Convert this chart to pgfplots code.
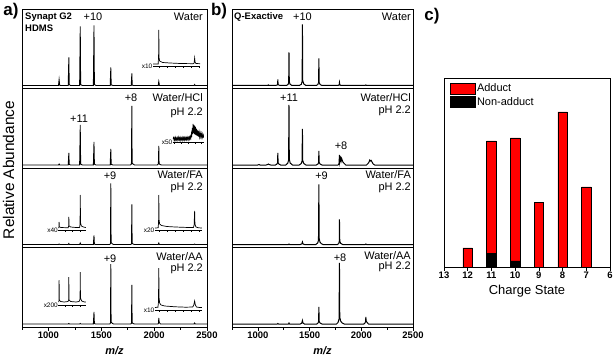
\documentclass[border=0pt]{standalone}
\usepackage{pgfplots}
\pgfplotsset{compat=1.18}
\usepackage{fontspec}
\setmainfont{Liberation Sans}
\setsansfont{Liberation Sans}
\newcommand{\fs}[1]{\fontsize{#1}{#1}\selectfont}

\pgfplotsset{
  spec/.style={scale only axis, height=79.5bp, xmin=750, xmax=2500, ymin=-3, ymax=76.5,
    xtick=\empty, ytick=\empty, anchor=north west, axis line style={line width=0.8bp}},
  speca/.style={spec, width=185bp},
  specb/.style={spec, width=181bp},
  boldticks/.style={/pgf/number format/1000 sep={}, /pgf/number format/assume math mode=true,
    xticklabel={\textbf{\pgfmathprintnumber{\tick}}}},
  bottomax/.style={xtick={1000,1500,2000,2500}, minor xtick={750,1250,1750,2250},
    xtick pos=left, tick align=outside, major tick length=3.5bp, minor tick length=2.5bp,
    tick style={line width=0.7bp, black}, boldticks,
    xticklabel style={font=\fs{9.5}, inner sep=1.5bp},
    xlabel={\bfseries\itshape m/z}, xlabel style={font=\fs{11}, yshift=-3bp}},
  inset/.style={scale only axis, anchor=south west, hide y axis, axis x line*=bottom,
    ymin=0, ymax=45, height=45bp, tick align=outside, major tick length=1.8bp,
    xticklabels={}, axis line style={line width=0.6bp}, tick style={line width=0.6bp, black}},
}
\tikzset{
  sline/.style={black, line width=0.85bp, mark=none},
  bline/.style={black, line width=1bp, mark=none},
  iline/.style={black, line width=0.7bp, mark=none},
  lab/.style={font=\fs{11}, inner sep=0pt},
}

\begin{document}
\begin{tikzpicture}
\useasboundingbox (0,0) rectangle (614bp,-360bp);

% ---------------- panel a: Synapt G2 HDMS ----------------
\begin{axis}[speca, at={(22bp,-9bp)}]
\addplot[sline] coordinates {(750,0)(1095,0)(1101,6)(1107,0)(1187,0)(1193,28)(1197,0.8)(1210,0)(1295,0)(1301,59)(1305,1)(1320,0)(1425,0)(1431,60)(1435,1)(1450,0)(1584,0)(1590,18)(1594,0.6)(1610,0)(1783,0)(1789,12)(1793,0.4)(1805,0)(2038,0)(2044,4)(2050,0)(2377,0)(2383,1)(2389,0)(2500,0)};
\end{axis}
\begin{axis}[speca, at={(22bp,-88.5bp)}]
\addplot[sline] coordinates {(750,0)(1095,0)(1101,1)(1107,0)(1187,0)(1193,12)(1197,0.5)(1210,0)(1295,0)(1301,40)(1305,1)(1320,0)(1425,0)(1431,23)(1435,0.8)(1450,0)(1584,0)(1590,16)(1594,0.6)(1610,0)(1775,0)(1785,1)(1789,59)(1792,2)(1800,1)(1815,0)(2030,0)(2040,1)(2044,19)(2047,1.5)(2055,0.5)(2070,0)(2500,0)};
\end{axis}
\begin{axis}[speca, at={(22bp,-168bp)}]
\addplot[sline] coordinates {(750,0)(1095,0)(1101,0.5)(1107,0)(1187,0)(1193,1)(1199,0)(1295,0)(1301,1.5)(1307,0)(1425,0)(1431,9)(1435,0.4)(1445,0)(1580,0)(1587,1)(1590,61)(1593,2)(1600,1)(1615,0)(1780,0)(1786,0.8)(1789,40)(1792,1.5)(1800,0.5)(1815,0)(2038,0)(2044,1.5)(2050,0)(2377,0)(2383,0.5)(2389,0)(2500,0)};
\end{axis}
\begin{axis}[speca, bottomax, at={(22bp,-247.5bp)}]
\addplot[sline] coordinates {(750,0)(1187,0)(1193,0.5)(1199,0)(1295,0)(1301,0.5)(1307,0)(1425,0)(1431,12)(1435,0.5)(1445,0)(1580,0)(1587,1)(1590,60)(1593,2)(1600,1)(1615,0)(1780,0)(1786,0.8)(1789,39)(1792,1.5)(1800,0.5)(1815,0)(2036,0)(2041,0.8)(2044,6)(2048,1.5)(2060,0)(2377,0)(2383,1)(2389,0)(2500,0)};
\end{axis}

% insets of panel a (same m/z scale as the main axes)
\begin{axis}[inset, at={(153.09bp,-66bp)}, width=47.04bp, xmin=1990, xmax=2435, xtick={2050,2125,2200,2275,2350,2425}]
\addplot[iline] coordinates {(1990,2)(2038,2)(2042,10)(2044,36)(2047,8)(2052,5)(2080,3.5)(2150,3)(2250,2.5)(2370,2.3)(2378,3)(2383,8)(2387,4)(2395,2.5)(2435,2.3)};
\end{axis}
\begin{axis}[inset, at={(172.96bp,-142bp)}, width=30.87bp, xmin=2178, xmax=2470, xtick={2190,2255,2320,2385,2450}]
\addplot[iline] coordinates {(2178,3)(2183,4.5)(2188,2)(2192,4)(2197,1.8)(2202,4.6)(2207,2.2)(2212,4)(2217,1.6)(2222,4.3)(2227,2.4)(2232,4.8)(2237,2)(2242,4.1)(2247,1.7)(2252,4.5)(2257,2.3)(2262,4.2)(2267,1.9)(2272,4.7)(2277,2.2)(2282,4.4)(2287,2)(2292,4.6)(2297,2.5)(2302,4.3)(2307,2.1)(2312,4.9)(2317,2.6)(2322,4.5)(2327,2.3)(2332,5)(2337,2.8)(2342,5.5)(2347,3.5)(2352,8)(2356,5)(2360,14)(2364,8)(2368,18)(2372,9)(2376,17)(2380,8)(2384,16)(2388,7.5)(2392,15)(2396,7)(2400,13)(2404,6.5)(2408,12)(2412,6)(2416,11)(2420,5.5)(2425,10)(2430,5)(2435,9)(2440,5)(2445,8.5)(2450,4.8)(2455,8)(2460,4.5)(2465,7)(2470,4.5)};
\end{axis}
\begin{axis}[inset, at={(58.47bp,-230bp)}, width=27.49bp, xmin=1095, xmax=1355, xtick={1155,1230,1305}]
\addplot[iline] coordinates {(1095,2)(1099,3)(1101,8)(1104,3)(1120,2.5)(1187,2.2)(1191,4)(1193,13)(1196,4)(1210,3)(1260,2.5)(1295,2.6)(1299,6)(1301,35)(1304,7)(1312,4)(1330,3)(1355,2.5)};
\end{axis}
\begin{axis}[inset, at={(154.99bp,-230bp)}, width=46.94bp, xmin=2008, xmax=2452, xtick={2050,2125,2200,2275,2350,2425}]
\addplot[iline] coordinates {(2008,2)(2038,2.2)(2042,8)(2044,35)(2047,10)(2052,6)(2070,4.5)(2120,3.5)(2200,3)(2300,2.6)(2372,2.6)(2378,5)(2383,19)(2386,6)(2395,3)(2420,2.2)(2452,2)};
\end{axis}
\begin{axis}[inset, at={(58.47bp,-305bp)}, width=27.49bp, xmin=1095, xmax=1355, xtick={1155,1230,1305}]
\addplot[iline] coordinates {(1095,3)(1099,4)(1101,25)(1103,5)(1115,3.5)(1150,3)(1185,3.5)(1191,5)(1193,28)(1195,5)(1210,3.5)(1260,3)(1290,3.5)(1299,6)(1301,33)(1303,7)(1315,4)(1340,3)(1355,3)};
\end{axis}
\begin{axis}[inset, at={(154.99bp,-310bp)}, width=46.94bp, xmin=2008, xmax=2452, xtick={2050,2125,2200,2275,2350,2425}]
\addplot[iline] coordinates {(2008,2.5)(2036,2.8)(2041,8)(2044,42)(2047,12)(2052,7)(2065,5)(2100,4)(2200,3.2)(2300,2.8)(2365,3)(2375,5)(2383,9)(2390,5)(2400,3)(2430,2.5)(2452,2.5)};
\end{axis}

% ---------------- panel b: Q-Exactive ----------------
\begin{axis}[specb, at={(232bp,-9bp)}]
\addplot[bline] coordinates {(750,0)(1095,0)(1101,0.6)(1107,0)(1170,0)(1185,0.4)(1191,1.2)(1193,6)(1196,1)(1205,0.3)(1220,0)(1275,0)(1292,1)(1298,3)(1301,33)(1304,3.5)(1312,1.2)(1330,0)(1400,0)(1420,1.2)(1428,4)(1431,61)(1434,5)(1444,1.5)(1465,0)(1565,0)(1580,1)(1587,3)(1590,27)(1593,3)(1602,1)(1620,0)(1775,0)(1786,0.5)(1789,3)(1793,0.6)(1805,0)(2038,0)(2044,0.6)(2050,0)(2500,0)};
\end{axis}
\begin{axis}[specb, at={(232bp,-88.5bp)}]
\addplot[bline] coordinates {(750,0)(1000,0)(1010,0.5)(1020,0)(1080,0)(1095,0.5)(1101,1)(1110,0.4)(1125,0)(1170,0)(1185,1)(1190,2)(1193,12)(1196,2)(1205,0.8)(1220,0)(1270,0)(1290,2)(1297,5)(1301,60)(1304,6)(1312,2)(1335,0)(1400,0)(1420,1.5)(1427,4)(1431,36)(1434,4.5)(1444,1.5)(1465,0)(1565,0)(1582,1)(1587,2.5)(1590,14)(1593,2.5)(1602,1)(1620,0)(1775,0)(1784,1)(1789,10)(1792,3)(1797,6)(1800,7)(1805,4)(1810,6.5)(1815,5)(1822,3)(1835,1.5)(1850,0)(2050,0)(2065,1.5)(2075,3)(2082,5)(2090,4)(2096,4.5)(2104,3)(2115,1)(2130,0)(2500,0)};
\end{axis}
\begin{axis}[specb, at={(232bp,-168bp)}]
\addplot[bline] coordinates {(750,0)(1295,0)(1301,0.5)(1307,0)(1410,0)(1425,0.6)(1431,2.5)(1436,0.6)(1450,0)(1560,0)(1578,1.5)(1586,4)(1590,60)(1593,6)(1600,2.5)(1612,1)(1630,0)(1770,0)(1782,1)(1787,3)(1789,25)(1792,3.5)(1800,1.2)(1820,0)(2038,0)(2044,0.5)(2050,0)(2500,0)};
\end{axis}
\begin{axis}[specb, bottomax, at={(232bp,-247.5bp)}]
\addplot[bline] coordinates {(750,0)(1187,0)(1193,0.5)(1199,0)(1295,0)(1301,1)(1307,0)(1410,0)(1424,0.8)(1431,3.5)(1436,1)(1450,0)(1570,0)(1582,1)(1587,2.5)(1590,17)(1593,2.5)(1602,1)(1620,0)(1760,0)(1775,1.5)(1785,5)(1789,61)(1792,7)(1800,3)(1815,1)(1835,0)(2025,0)(2036,1)(2041,2.5)(2044,7)(2048,3)(2056,1.5)(2070,0)(2500,0)};
\end{axis}

% ---------------- panel c: charge state bars ----------------
\begin{axis}[at={(444bp,-78bp)}, anchor=north west, scale only axis, width=166bp, height=189bp,
  xmin=6, xmax=13, x dir=reverse, ymin=0, ymax=121.9, ytick=\empty,
  xtick={6,...,13}, xtick pos=left, tick align=outside, major tick length=3.5bp,
  tick style={line width=0.7bp, black}, axis line style={line width=0.9bp},
  boldticks, xticklabel style={font=\fs{9.5}, inner sep=1.5bp},
  xlabel={Charge State}, xlabel style={font=\fs{13}, yshift=-1bp},
  ybar stacked, bar width=0.4,
  reverse legend,
  legend cell align=left,
  legend style={at={(0.03,0.985)}, anchor=north west, draw=none, fill=none,
    font=\fs{11}, row sep=1.5bp, inner sep=1bp, nodes={inner sep=1.5bp}},
  legend image code/.code={\draw[#1, draw=black, line width=0.4bp] (0bp,-5.5bp) rectangle (25bp,5.5bp);},
]
\addplot[fill=black, draw=black, line width=0.5bp] coordinates {(12,0)(11,9.0)(10,3.9)(9,0)(8,0)(7,0)};
\addplot[fill=red, draw=black, line width=0.5bp] coordinates {(12,12.3)(11,72.3)(10,79.4)(9,41.9)(8,100)(7,51.6)};
\legend{Non-adduct, Adduct}
\end{axis}

% ---------------- annotations ----------------
\node[font=\bfseries\fs{17}] at (11bp,-11bp) {a)};
\node[font=\bfseries\fs{17}] at (219bp,-11bp) {b)};
\node[font=\bfseries\fs{17}] at (432bp,-16bp) {c)};
\node[rotate=90, font=\fs{15.5}] at (8.5bp,-170bp) {Relative Abundance};

% panel a
\node[lab, font=\bfseries\fs{9.5}, anchor=west] at (25bp,-17bp) {Synapt G2};
\node[lab, font=\bfseries\fs{9.5}, anchor=west] at (25bp,-28bp) {HDMS};
\node[lab] at (93bp,-17bp) {+10};
\node[lab, anchor=east] at (203bp,-17bp) {Water};
\node[lab] at (79bp,-118.5bp) {+11};
\node[lab] at (131bp,-98bp) {+8};
\node[lab, anchor=east] at (203bp,-98bp) {Water/HCl};
\node[lab, anchor=east] at (203bp,-113bp) {pH 2.2};
\node[lab] at (110bp,-176bp) {+9};
\node[lab, anchor=east] at (203bp,-175bp) {Water/FA};
\node[lab, anchor=east] at (203bp,-188bp) {pH 2.2};
\node[lab] at (110bp,-259bp) {+9};
\node[lab, anchor=east] at (203bp,-257bp) {Water/AA};
\node[lab, anchor=east] at (203bp,-269bp) {pH 2.2};
\node[lab, font=\fs{6.5}, anchor=east] at (152.5bp,-66bp) {x10};
\node[lab, font=\fs{6.5}, anchor=east] at (172.5bp,-142bp) {x50};
\node[lab, font=\fs{6.5}, anchor=east] at (58bp,-230bp) {x40};
\node[lab, font=\fs{6.5}, anchor=east] at (154.5bp,-230bp) {x20};
\node[lab, font=\fs{6.5}, anchor=east] at (58bp,-305bp) {x200};
\node[lab, font=\fs{6.5}, anchor=east] at (154.5bp,-310bp) {x10};

% panel b
\node[lab, font=\bfseries\fs{9.5}, anchor=west] at (234bp,-17bp) {Q-Exactive};
\node[lab] at (302.5bp,-17bp) {+10};
\node[lab, anchor=east] at (411bp,-17bp) {Water};
\node[lab] at (289bp,-97.5bp) {+11};
\node[lab] at (341bp,-146bp) {+8};
\node[lab, anchor=east] at (411bp,-97.5bp) {Water/HCl};
\node[lab, anchor=east] at (411bp,-111bp) {pH 2.2};
\node[lab] at (321.5bp,-176bp) {+9};
\node[lab, anchor=east] at (411bp,-175bp) {Water/FA};
\node[lab, anchor=east] at (411bp,-188bp) {pH 2.2};
\node[lab] at (340bp,-258bp) {+8};
\node[lab, anchor=east] at (411bp,-256bp) {Water/AA};
\node[lab, anchor=east] at (411bp,-267bp) {pH 2.2};
\end{tikzpicture}
\end{document}
